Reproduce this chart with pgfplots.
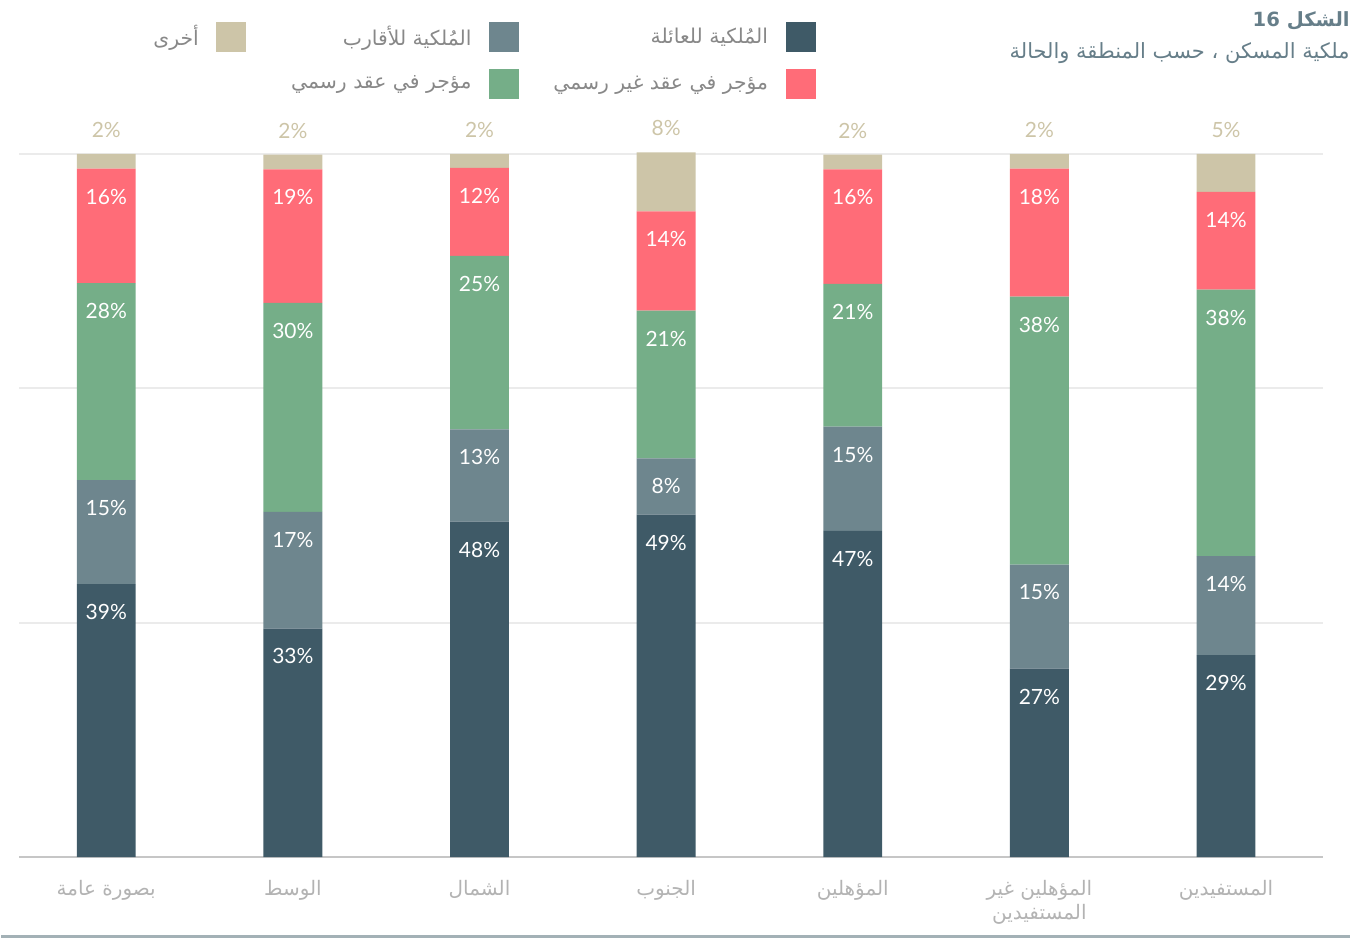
\documentclass[border=0pt]{standalone}
\usepackage{pgfplots}
\pgfplotsset{compat=1.18}
\usepackage{pgfplotstable}
\usepackage{fontspec}
\setmainfont{Lato}
\newfontfamily\arabicfont[Script=Arabic]{DejaVu Sans}
\newfontfamily\latofont{Lato}
\TeXXeTstate=1

\definecolor{cdark}{HTML}{3F5A67}
\definecolor{cgrey}{HTML}{6E868E}
\definecolor{cgreen}{HTML}{75AE88}
\definecolor{cred}{HTML}{FF6C78}
\definecolor{cbeige}{HTML}{CDC5A8}
\definecolor{titlecol}{HTML}{667E89}
\definecolor{leggray}{HTML}{888888}
\definecolor{catgray}{HTML}{B3B3B3}
\definecolor{gridgray}{HTML}{EBEBEB}
\definecolor{axisgray}{HTML}{C6C6C6}
\definecolor{botline}{HTML}{A3B1B6}

\pgfplotstableread{
x v l
0 38.8 39
1 32.5 33
2 47.7 48
3 48.7 49
4 46.4 47
5 26.8 27
6 28.7 29
}\tdark
\pgfplotstableread{
x v l
0 14.8 15
1 16.6 17
2 13.1 13
3 8.0 8
4 14.8 15
5 14.8 15
6 14.1 14
}\tgrey
\pgfplotstableread{
x v l
0 28.0 28
1 29.7 30
2 24.7 25
3 21.0 21
4 20.3 21
5 38.1 38
6 37.9 38
}\tgreen
\pgfplotstableread{
x v l
0 16.3 16
1 19.0 19
2 12.5 12
3 14.1 14
4 16.3 16
5 18.2 18
6 13.9 14
}\tred
\pgfplotstableread{
x v l
0 2.1 2
1 2.1 2
2 2.0 2
3 8.4 8
4 2.1 2
5 2.1 2
6 5.4 5
}\tbeige

\begin{document}
\begin{tikzpicture}
\path (0,0) rectangle (684pt,470pt);
\begin{axis}[
  at={(9pt,41pt)}, anchor=south west,
  scale only axis, width=652.5pt, height=352pt,
  xmin=-0.465, xmax=6.52, ymin=0, ymax=100,
  ybar stacked, bar width=29.5pt,
  clip=false,
  axis lines*=left,
  y axis line style={draw=none},
  x axis line style={draw=axisgray, line width=1.2pt, -},
  ytick={33.333,66.667,100}, yticklabels={},
  ymajorgrids, grid style={draw=gridgray, line width=1pt},
  major tick length=0pt,
  xtick={0,...,6},
  xticklabels={
    {\beginR بصورة عامة\endR},
    {\beginR الوسط\endR},
    {\beginR الشمال\endR},
    {\beginR الجنوب\endR},
    {\beginR المؤهلين\endR},
    {\beginR المؤهلين غير\endR\\\beginR المستفيدين\endR},
    {\beginR المستفيدين\endR}},
  xticklabel style={font=\arabicfont\fontsize{10}{12}\selectfont, text=catgray, align=center, anchor=north, yshift=-8pt},
  sq/.style={legend image code/.code={\fill[##1] (0pt,-7.5pt) rectangle (15pt,7.5pt);}},
  legend columns=3,
  legend plot pos=right,
  legend cell align=right,
  legend style={at={(0.6107,1.1875)}, anchor=north east, draw=none, fill=none,
    inner sep=0pt, outer sep=0pt, row sep=8.5pt,
    nodes={inner sep=0pt, outer sep=0pt},
    /tikz/every odd column/.style={column sep=8.75pt},
    /tikz/every even column/.style={column sep=0pt},
    font=\arabicfont\fontsize{10.2}{12}\selectfont, text=leggray},
  inlab/.style={visualization depends on=\thisrow{v}\as\segh,
    point meta=explicit symbolic,
    nodes near coords={\pgfplotspointmeta\%},
    every node near coord/.style={font=\latofont\fontsize{10.5}{12}\selectfont, text=white, anchor=center, yshift={\segh*1.76pt-14pt}}},
]
\addlegendimage{sq, fill=cbeige, draw=none}
\addlegendentry{\makebox[30pt][r]{\beginR أخرى\endR}}
\addlegendimage{sq, fill=cgrey, draw=none}
\addlegendentry{\makebox[112.75pt][r]{\beginR المُلكية للأقارب\endR}}
\addlegendimage{sq, fill=cdark, draw=none}
\addlegendentry{\makebox[124.75pt][r]{\beginR المُلكية للعائلة\endR}}
\addlegendimage{sq, fill=white, draw=none, opacity=0}
\addlegendentry{\makebox[30pt][r]{}}
\addlegendimage{sq, fill=cgreen, draw=none}
\addlegendentry{\makebox[112.75pt][r]{\beginR مؤجر في عقد رسمي\endR}}
\addlegendimage{sq, fill=cred, draw=none}
\addlegendentry{\makebox[124.75pt][r]{\beginR مؤجر في عقد غير رسمي\endR}}

\addplot[fill=cdark, draw=none, inlab] table[x=x, y=v, meta=l]{\tdark};
\addplot[fill=cgrey, draw=none, inlab] table[x=x, y=v, meta=l]{\tgrey};
\addplot[fill=cgreen, draw=none, inlab] table[x=x, y=v, meta=l]{\tgreen};
\addplot[fill=cred, draw=none, inlab] table[x=x, y=v, meta=l]{\tred};
\addplot[fill=cbeige, draw=none, visualization depends on=\thisrow{v}\as\segh,
  point meta=explicit symbolic,
  nodes near coords={\pgfplotspointmeta\%},
  every node near coord/.style={font=\latofont\fontsize{10.5}{12}\selectfont, text=cbeige, anchor=center, yshift={\segh*1.76pt+12pt}}]
  table[x=x, y=v, meta=l]{\tbeige};
\end{axis}
\node[anchor=east, inner sep=0pt, text=titlecol, font=\arabicfont\bfseries\fontsize{9.8}{12}\selectfont] at (675pt,459.5pt) {\beginR الشكل \beginL16\endL\endR};
\node[anchor=east, inner sep=0pt, text=titlecol, font=\arabicfont\fontsize{10.5}{13}\selectfont] at (675pt,443.5pt) {\beginR ملكية المسكن ، حسب المنطقة والحالة\endR};
\draw[botline, line width=1.5pt] (0pt,1pt) -- (675pt,1pt);
\end{tikzpicture}
\end{document}
